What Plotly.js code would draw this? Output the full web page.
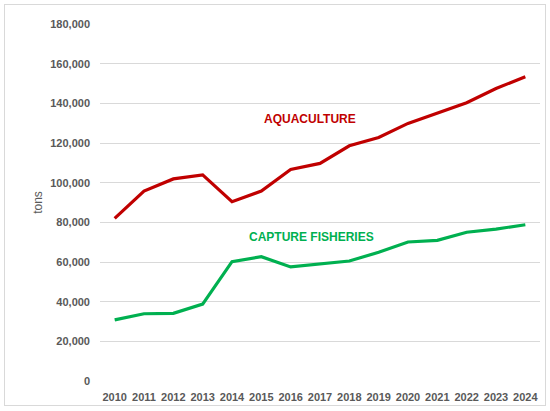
<!DOCTYPE html>
<html>
<head>
<meta charset="utf-8">
<script src="https://cdn.plot.ly/plotly-3.0.1.min.js"></script>
<style>
html,body{margin:0;padding:0;background:#fff;}
#wrap{position:relative;width:550px;height:411px;}
#chart{width:550px;height:411px;}
#frame{position:absolute;left:4px;top:4px;width:542px;height:402px;border:1px solid #D9D9D9;box-sizing:border-box;pointer-events:none;}
</style>
</head>
<body>
<div id="wrap"><div id="chart"></div><div id="frame"></div></div>
<script>
const years = ['2010','2011','2012','2013','2014','2015','2016','2017','2018','2019','2020','2021','2022','2023','2024'];
const aquaculture = [82000, 95800, 101900, 103900, 90400, 95800, 106700, 109700, 118600, 122800, 129900, 134900, 140300, 147500, 153400];
const captureFisheries = [30800, 33900, 34100, 38800, 60200, 62700, 57500, 58900, 60500, 64900, 70100, 70900, 75000, 76600, 78800];
const yTicks = [0, 20000, 40000, 60000, 80000, 100000, 120000, 140000, 160000, 180000];

const font = 'Liberation Sans, Arial, sans-serif';
const traces = [
  {x: years, y: aquaculture, type: 'scatter', mode: 'lines', name: 'AQUACULTURE',
   line: {color: '#C00000', width: 3.2}},
  {x: years, y: captureFisheries, type: 'scatter', mode: 'lines', name: 'CAPTURE FISHERIES',
   line: {color: '#00B050', width: 3.2}}
];
const layout = {
  width: 550, height: 411,
  margin: {l: 100, r: 10, t: 24, b: 30},
  paper_bgcolor: '#fff', plot_bgcolor: '#fff',
  showlegend: false,
  font: {family: font, color: '#595959'},
  xaxis: {
    type: 'category', range: [-0.5, 14.5], showgrid: false, zeroline: false,
    showline: false, ticks: '', tickfont: {size: 11, color: '#595959', family: font, weight: 'bold'},
    ticklabelstandoff: 8
  },
  yaxis: {
    range: [0, 180000], tickvals: yTicks, tickformat: ',d',
    showgrid: true, gridcolor: '#D9D9D9', gridwidth: 1, zeroline: false, showline: false,
    ticks: '', tickfont: {size: 11, color: '#595959', family: font, weight: 'bold'},
    ticklabelstandoff: 9,
    title: {text: 'tons', font: {size: 12, color: '#595959', family: font}, standoff: 5}
  },
  annotations: [
    {x: 6.65, y: 132000, xref: 'x', yref: 'y', text: 'AQUACULTURE', showarrow: false,
     font: {size: 12, color: '#C00000', family: font, weight: 'bold'}},
    {x: 6.7, y: 72600, xref: 'x', yref: 'y', text: 'CAPTURE FISHERIES', showarrow: false,
     font: {size: 12, color: '#00B050', family: font, weight: 'bold'}}
  ]
};
Plotly.newPlot('chart', traces, layout, {displayModeBar: false, staticPlot: true});
</script>
</body>
</html>
